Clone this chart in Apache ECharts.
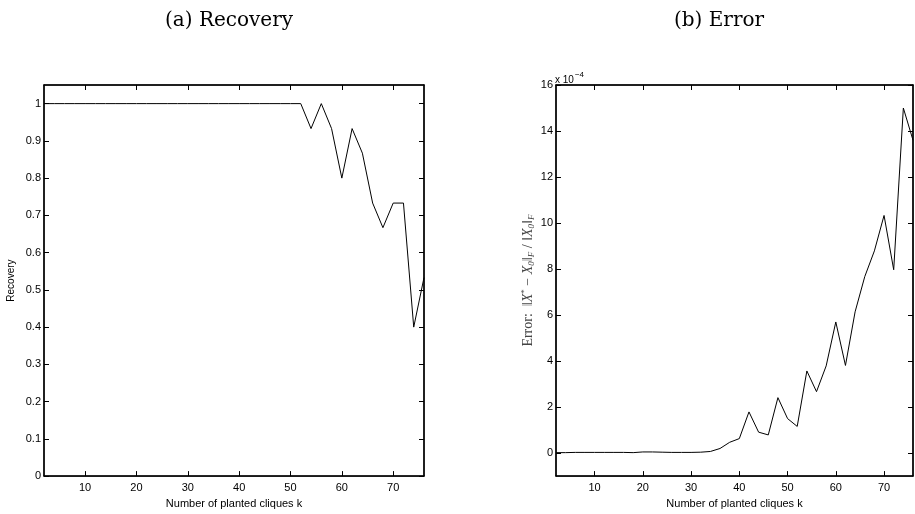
<!DOCTYPE html>
<html>
<head>
<meta charset="utf-8">
<script src="https://cdn.jsdelivr.net/npm/echarts@6/dist/echarts.min.js"></script>
<style>
    html, body { margin: 0; padding: 0; background: #fff; }
    #chart { width: 915px; height: 514px; }
</style>
</head>
<body>
<div id="chart"></div>
<script>
// number of planted cliques
const kValues = [2, 4, 6, 8, 10, 12, 14, 16, 18, 20, 22, 24, 26, 28, 30, 32, 34, 36, 38,
    40, 42, 44, 46, 48, 50, 52, 54, 56, 58, 60, 62, 64, 66, 68, 70, 72, 74, 76];

// (a) recovery rate
const recovery = [1, 1, 1, 1, 1, 1, 1, 1, 1, 1, 1, 1, 1, 1, 1, 1, 1, 1, 1,
    1, 1, 1, 1, 1, 1, 1, 0.933, 1, 0.933, 0.8, 0.933, 0.867, 0.733, 0.667, 0.733, 0.733, 0.4, 0.533];

// (b) relative error, in units of 1e-4
const errorE4 = [0.02, 0.02, 0.03, 0.03, 0.03, 0.03, 0.03, 0.03, 0.02, 0.05, 0.05, 0.04, 0.03, 0.03, 0.03, 0.04, 0.07, 0.2, 0.47,
    0.63, 1.79, 0.91, 0.79, 2.41, 1.5, 1.16, 3.57, 2.67, 3.79, 5.7, 3.81, 6.14, 7.67, 8.79, 10.33, 7.97, 15.0, 13.6];

const xTicks = [10, 20, 30, 40, 50, 60, 70];
const recTicks = [0, 0.1, 0.2, 0.3, 0.4, 0.5, 0.6, 0.7, 0.8, 0.9, 1];
const errTicks = [0, 2, 4, 6, 8, 10, 12, 14, 16];

const sans = 'Liberation Sans';
const serif = 'DejaVu Serif';

function pairs(ys) {
    return kValues.map((k, i) => [k, ys[i]]);
}

function xAxisFor(gridIndex, top) {
    return {
        type: 'value',
        gridIndex: gridIndex,
        position: top ? 'top' : 'bottom',
        min: 2,
        max: 76,
        name: top ? '' : 'Number of planted cliques k',
        nameLocation: 'middle',
        nameGap: 16,
        nameTextStyle: { fontFamily: sans, fontSize: 11, color: '#000' },
        axisLine: { show: true, onZero: false, lineStyle: { color: '#000', width: 1.5 } },
        axisTick: { show: true, inside: true, length: 5, customValues: xTicks, lineStyle: { color: '#000' } },
        axisLabel: { show: !top, margin: 6, customValues: xTicks, fontFamily: sans, fontSize: 11, color: '#000' },
        splitLine: { show: false }
    };
}

function yAxisFor(gridIndex, right, min, max, ticks, fmt) {
    return {
        type: 'value',
        gridIndex: gridIndex,
        position: right ? 'right' : 'left',
        min: min,
        max: max,
        axisLine: { show: true, onZero: false, lineStyle: { color: '#000', width: 1.5 } },
        axisTick: { show: true, inside: true, length: 5, customValues: ticks, lineStyle: { color: '#000' } },
        axisLabel: {
            show: !right, margin: 3, customValues: ticks, formatter: fmt,
            fontFamily: sans, fontSize: 11, color: '#000'
        },
        splitLine: { show: false }
    };
}

const chart = echarts.init(document.getElementById('chart'));

const recY = yAxisFor(0, false, 0, 1.05, recTicks, v => String(Math.round(v * 10) / 10));
recY.name = 'Recovery';
recY.nameLocation = 'middle';
recY.nameGap = 28;
recY.nameTextStyle = { fontFamily: sans, fontSize: 10, color: '#000' };

const errY = yAxisFor(1, false, -1, 16, errTicks, v => String(v));
errY.name = '{n|Error:  \u2016}{i|X}{sup|*}{n| \u2212 }{i|X}{sub|0}{n|\u2016}{sub|F}{n| / \u2016}{i|X}{sub|0}{n|\u2016}{sub|F}';
errY.nameLocation = 'middle';
errY.nameGap = 20;
errY.nameTextStyle = {
    color: '#444',
    rich: {
        n: { fontFamily: 'Liberation Serif', fontSize: 14, color: '#444' },
        i: { fontFamily: 'Liberation Serif', fontStyle: 'italic', fontSize: 14, color: '#444' },
        sub: { fontFamily: 'Liberation Serif', fontStyle: 'italic', fontSize: 9, color: '#444', padding: [7, 0, 0, 0] },
        sup: { fontFamily: 'Liberation Serif', fontSize: 9, color: '#444', padding: [0, 0, 7, 0] }
    }
};

chart.setOption({
    animation: false,
    title: [
        { text: '(a) Recovery', left: 224, top: 6, textAlign: 'center',
          textStyle: { fontFamily: serif, fontSize: 20, fontWeight: 'normal', color: '#000' } },
        { text: '(b) Error', left: 714, top: 6, textAlign: 'center',
          textStyle: { fontFamily: serif, fontSize: 20, fontWeight: 'normal', color: '#000' } }
    ],
    graphic: [{
        type: 'text',
        left: 555,
        top: 71,
        style: {
            text: '{a|x 10}{b|\u22124}',
            rich: {
                a: { fontFamily: sans, fontSize: 10, color: '#000', padding: [5, 0, 0, 0] },
                b: { fontFamily: sans, fontSize: 8, color: '#000', padding: [0, 0, 5, 1] }
            }
        }
    }],
    grid: [
        { left: 44, top: 85, width: 380, height: 396, show: true, borderColor: '#000', borderWidth: 1 },
        { left: 556, top: 85, width: 357, height: 397, show: true, borderColor: '#000', borderWidth: 1 }
    ],
    xAxis: [xAxisFor(0, false), xAxisFor(0, true), xAxisFor(1, false), xAxisFor(1, true)],
    yAxis: [
        recY,
        yAxisFor(0, true, 0, 1.05, recTicks),
        errY,
        yAxisFor(1, true, -1, 16, errTicks)
    ],
    series: [
        {
            type: 'line', xAxisIndex: 0, yAxisIndex: 0, data: pairs(recovery),
            showSymbol: false, symbol: 'none', lineStyle: { color: '#000', width: 1 }, clip: true
        },
        {
            type: 'line', xAxisIndex: 2, yAxisIndex: 2, data: pairs(errorE4),
            showSymbol: false, symbol: 'none', lineStyle: { color: '#000', width: 1 }, clip: true
        }
    ]
});
</script>
</body>
</html>
